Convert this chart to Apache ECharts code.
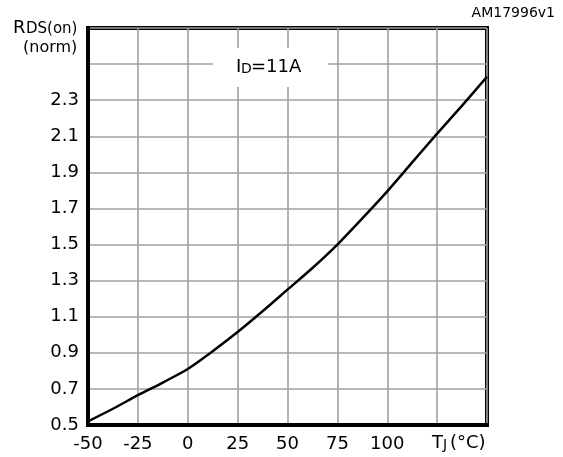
<!DOCTYPE html>
<html>
<head>
<meta charset="utf-8">
<style>
  html, body { margin: 0; padding: 0; background: #fff; }
  #chart { width: 563px; height: 457px; }
</style>
<script src="https://cdn.jsdelivr.net/npm/echarts@6/dist/echarts.min.js"></script>
</head>
<body>
<div id="chart"></div>
<script>
// Normalised on-resistance vs junction temperature, ID = 11 A
const tempLow = [-50, -37.5, -25, -12.5, 0, 11.5];
const rdsLow  = [0.52, 0.59, 0.665, 0.735, 0.81, 0.90];

const tempHigh = [11.5, 25, 37.5, 50, 62.5, 75, 87.5, 100, 112.5, 125, 137.5, 150];
const rdsHigh  = [0.90, 1.015, 1.13, 1.25, 1.37, 1.50, 1.645, 1.795, 1.955, 2.115, 2.27, 2.43];

const xTickLabels = ['-50', '-25', '0', '25', '50', '75', '100'];
const yTickLabels = ['0.5', '0.7', '0.9', '1.1', '1.3', '1.5', '1.7', '1.9', '2.1', '2.3'];

const FONT = 'DejaVu Sans';
const chart = echarts.init(document.getElementById('chart'), null, { renderer: 'canvas' });

function pairs(xs, ys) { return xs.map((x, i) => [x, ys[i]]); }

const lineStyle = { color: '#000', width: 2.5 };

chart.setOption({
  animation: false,
  backgroundColor: '#fff',
  grid: {
    left: 88, right: 76, top: 28, bottom: 32,
    show: true, borderColor: '#000', borderWidth: 4, backgroundColor: 'transparent'
  },
  xAxis: {
    type: 'value', min: -50, max: 150, interval: 25,
    axisLine: { show: true, onZero: false, lineStyle: { color: '#000', width: 4 } },
    axisTick: { show: false },
    splitLine: { show: true, lineStyle: { color: '#a0a0a0', width: 1.6 } },
    axisLabel: {
      margin: 10, color: '#000', fontFamily: FONT, fontSize: 18,
      formatter: v => {
        const s = String(Math.round(v));
        return xTickLabels.indexOf(s) >= 0 ? s : '';
      }
    }
  },
  yAxis: {
    type: 'value', min: 0.5, max: 2.7, interval: 0.2,
    axisLine: { show: true, onZero: false, lineStyle: { color: '#000', width: 4 } },
    axisTick: { show: false },
    splitLine: { show: true, lineStyle: { color: '#a0a0a0', width: 1.6 } },
    axisLabel: {
      margin: 9, color: '#000', fontFamily: FONT, fontSize: 18,
      formatter: v => {
        const s = (Math.round(v * 10) / 10).toFixed(1);
        return yTickLabels.indexOf(s) >= 0 ? s : '';
      }
    }
  },
  series: [
    { type: 'line', data: pairs(tempLow, rdsLow), smooth: 0.25,
      showSymbol: false, symbol: 'none', lineStyle: lineStyle, z: 5 },
    { type: 'line', data: pairs(tempHigh, rdsHigh), smooth: 0.25,
      showSymbol: false, symbol: 'none', lineStyle: lineStyle, z: 5 }
  ],
  graphic: [
    { type: 'text', z: 20, right: 8, top: 6,
      style: { text: 'AM17996v1', fill: '#000', font: '14px "DejaVu Sans"' } },
    { type: 'text', z: 20, left: 13, top: 19,
      style: { text: 'R', fill: '#000', font: '18px "DejaVu Sans"' } },
    { type: 'text', z: 20, left: 26, top: 22,
      style: { text: 'DS(on)', fill: '#000', font: '15px "DejaVu Sans"' } },
    { type: 'text', z: 20, left: 23, top: 40,
      style: { text: '(norm)', fill: '#000', font: '16px "DejaVu Sans"' } },
    { type: 'rect', z: 15, shape: { x: 213, y: 48, width: 115, height: 39 },
      style: { fill: '#fff' } },
    { type: 'text', z: 20, left: 236, top: 58,
      style: { text: 'I', fill: '#000', font: '18px "DejaVu Sans"' } },
    { type: 'text', z: 20, left: 241, top: 62,
      style: { text: 'D', fill: '#000', font: '14px "DejaVu Sans"' } },
    { type: 'text', z: 20, left: 251, top: 58,
      style: { text: '=11A', fill: '#000', font: '18px "DejaVu Sans"' } },
    { type: 'text', z: 20, left: 432, top: 434,
      style: { text: 'T', fill: '#000', font: '18px "DejaVu Sans"' } },
    { type: 'text', z: 20, left: 443, top: 438,
      style: { text: 'J', fill: '#000', font: '14px "DejaVu Sans"' } },
    { type: 'text', z: 20, left: 450, top: 434,
      style: { text: '(°C)', fill: '#000', font: '18px "DejaVu Sans"' } }
  ]
});
</script>
</body>
</html>
